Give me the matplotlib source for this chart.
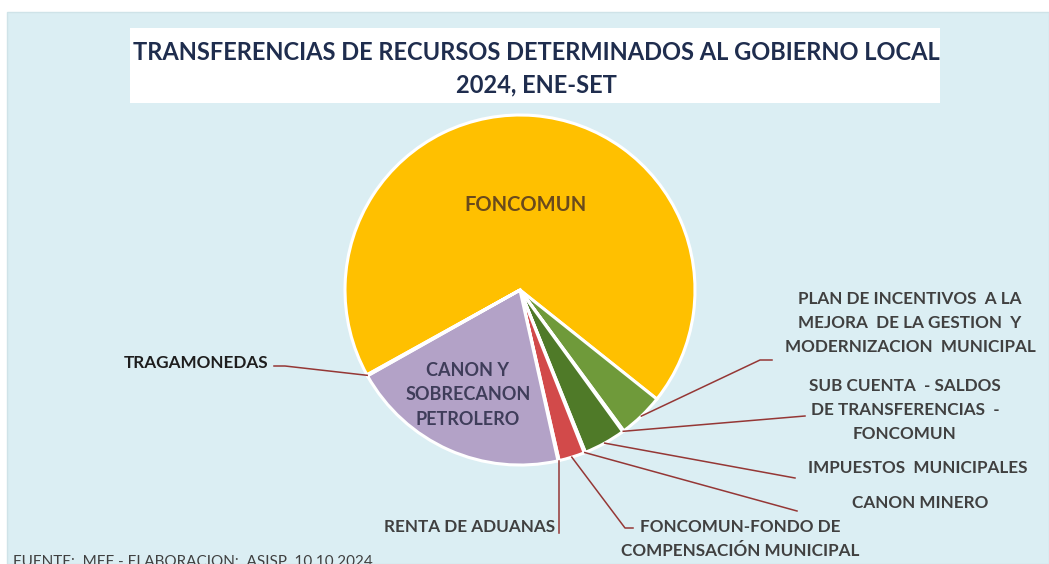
import numpy as np
import matplotlib
matplotlib.use("Agg")
import matplotlib.pyplot as plt
from matplotlib.patches import Rectangle

plt.rcParams['font.family'] = ['Lato', 'DejaVu Sans']

# slices, clockwise from the top-left boundary
labels = ["FONCOMUN",
          "PLAN DE INCENTIVOS  A LA\nMEJORA  DE LA GESTION  Y\nMODERNIZACION  MUNICIPAL",
          "SUB CUENTA  - SALDOS\nDE TRANSFERENCIAS  -\nFONCOMUN",
          "IMPUESTOS  MUNICIPALES",
          "CANON MINERO",
          "FONCOMUN-FONDO DE\nCOMPENSACIÓN MUNICIPAL",
          "RENTA DE ADUANAS",
          "CANON Y\nSOBRECANON\nPETROLERO",
          "TRAGAMONEDAS"]
shares = [69.0, 4.2, 0.12, 3.9, 0.12, 2.4, 0.1, 20.4, 0.1]
colors = ["#FFC000", "#6F9A3A", "#8CB356", "#4F7A28", "#C0504D",
          "#D24A4A", "#C0504D", "#B3A2C7", "#F2DCDB"]
explode = [0, 0, 0, 0, 0, 0, 0, 0.04, 0]

W, H = 1049, 564
fig = plt.figure(figsize=(W / 100, H / 100), dpi=100)
fig.patch.set_facecolor("white")
ax = fig.add_axes([0, 0, 1, 1])


def Y(y):
    return H - y


# chart background + title box
ax.add_patch(Rectangle((7, 0), W - 7, Y(12), facecolor="#DBEEF3",
                       edgecolor="#CFE3E8", lw=1, zorder=0))
ax.add_patch(Rectangle((130, Y(103)), 810, 75, facecolor="white",
                       edgecolor="none", zorder=1))
ax.text(536, Y(53), "TRANSFERENCIAS DE RECURSOS DETERMINADOS AL GOBIERNO LOCAL",
        ha="center", va="center", fontsize=17, fontweight="bold", color="#1F2D4E")
ax.text(536, Y(85), "2024, ENE-SET", ha="center", va="center",
        fontsize=17, fontweight="bold", color="#1F2D4E")

cx, cy, r = 520, Y(290), 175
wedges, _ = ax.pie(shares, colors=colors, startangle=209.0, counterclock=False,
                   explode=explode, center=(cx, cy), radius=r, frame=True,
                   wedgeprops=dict(edgecolor="white", linewidth=2.2))
ax.set_xlim(0, W)
ax.set_ylim(0, H)
ax.set_aspect("equal")
ax.axis("off")

# inner labels
ax.text(525, Y(205), labels[0], ha="center", va="center", fontsize=14.5,
        fontweight="bold", color="#6A4A1C")
ax.text(468, Y(395), labels[7], ha="center", va="center", fontsize=13,
        fontweight="bold", color="#3F3D5A", linespacing=1.55)

line_c = "#953735"
lab_c = "#404040"


def anchor(i):
    w = wedges[i]
    th = np.deg2rad((w.theta1 + w.theta2) / 2)
    x0, y0 = w.center
    return x0 + w.r * np.cos(th), y0 + w.r * np.sin(th)


# (index, leader path after the anchor, text position, alignment, colour)
outer = [
    (1, [(760, 360), (772, 360)], (910, 323), "center", lab_c),
    (2, [(805, 416)], (905, 410), "center", lab_c),
    (3, [(795, 478)], (918, 468), "center", lab_c),
    (4, [(797, 511)], (920, 503), "center", lab_c),
    (5, [(625, 528), (633, 528)], (740, 539), "center", lab_c),
    (6, [None, 533], (555, 527), "right", lab_c),
    (8, [(285, 366), (274, 366)], (268, 363), "right", "#1E1E1E"),
]
for i, path, (tx, ty), ha, col in outer:
    ax0, ay0 = anchor(i)
    if path[0] is None:
        xs, ys = [ax0, ax0], [ay0, Y(path[1])]
    else:
        xs = [ax0] + [p[0] for p in path]
        ys = [ay0] + [Y(p[1]) for p in path]
    ax.plot(xs, ys, color=line_c, lw=1.1, zorder=3)
    ax.text(tx, Y(ty), labels[i], ha=ha, va="center", fontsize=12.3,
            fontweight="bold", color=col, linespacing=1.6,
            multialignment="center")

ax.text(13, Y(562), "FUENTE:  MEF - ELABORACION:  ASISP. 10.10.2024",
        ha="left", va="center", fontsize=11, color="#404040")

fig.savefig("out.png", dpi=100, facecolor=fig.get_facecolor())
